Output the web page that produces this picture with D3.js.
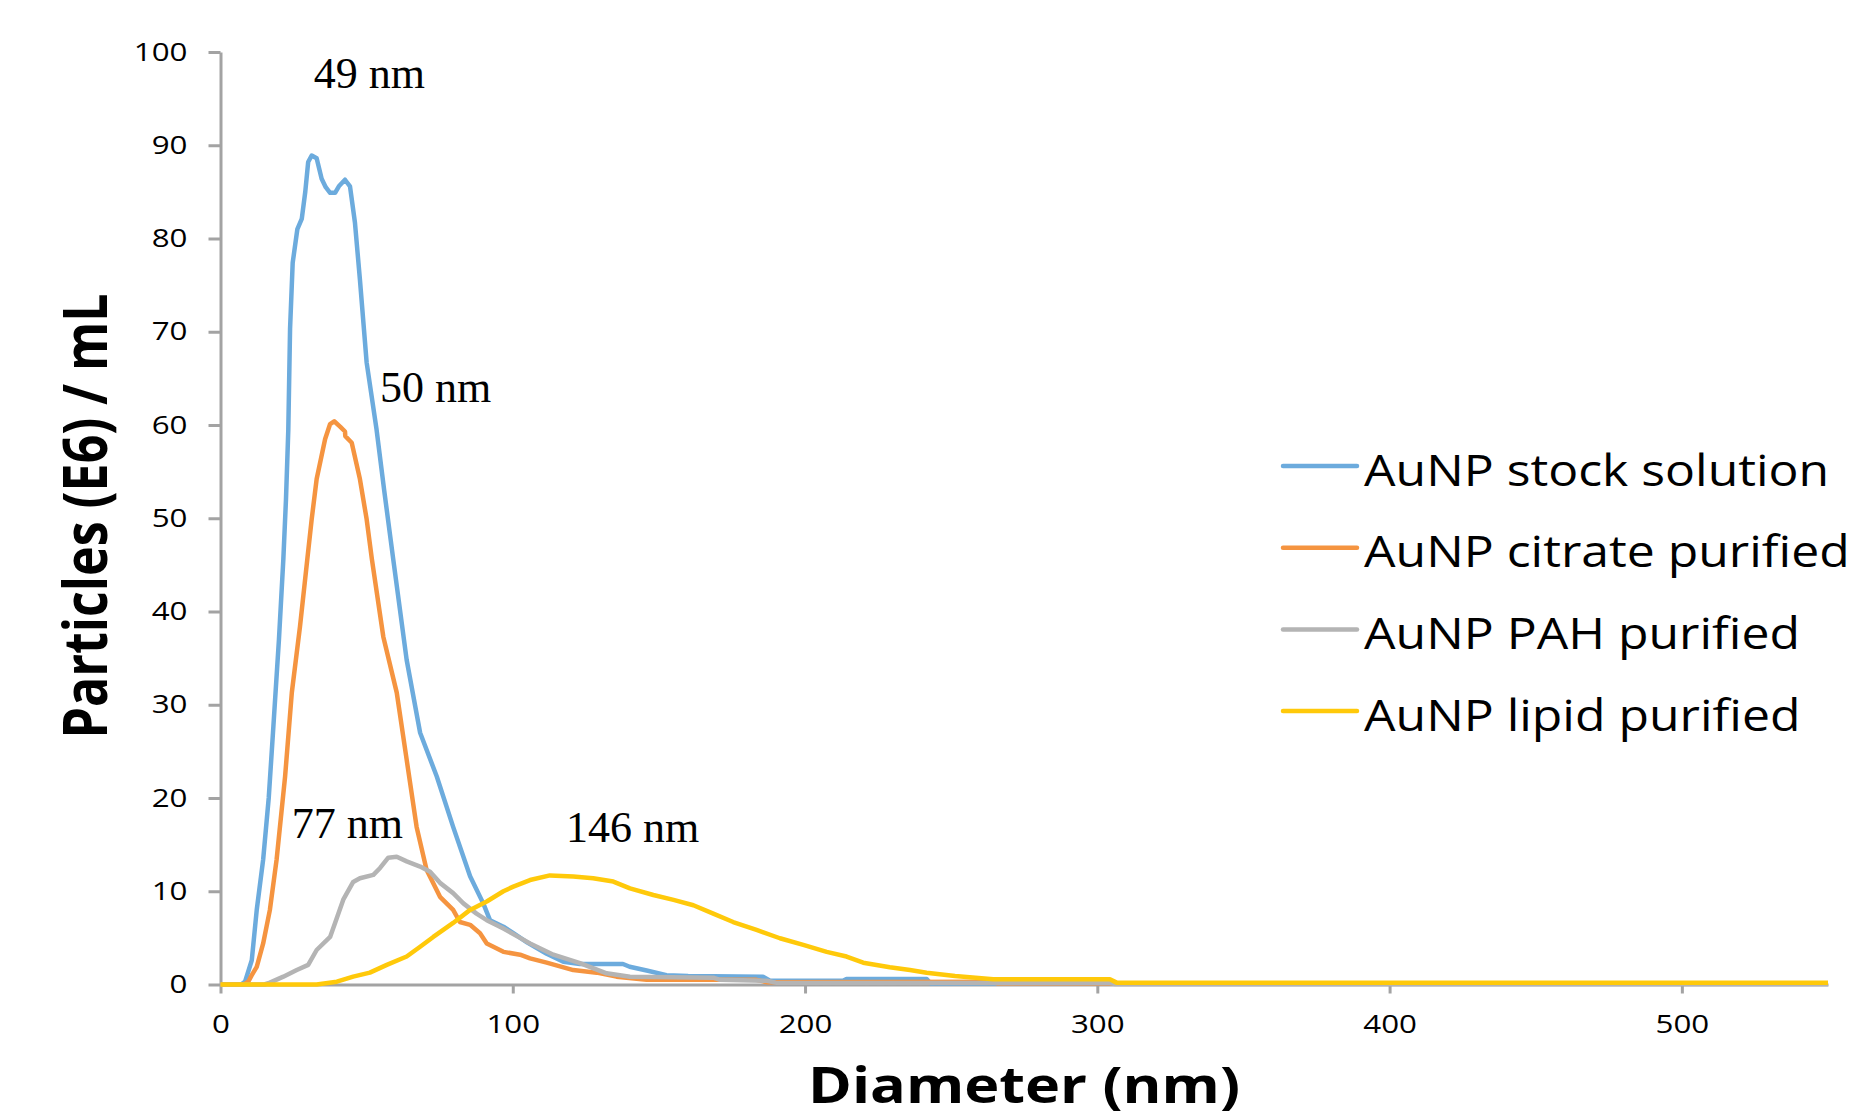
<!DOCTYPE html>
<html>
<head>
<meta charset="utf-8">
<script src="https://cdnjs.cloudflare.com/ajax/libs/d3/7.8.5/d3.min.js"></script>
<style>
  body { margin: 0; background: #fff; }
  svg { display: block; }
</style>
</head>
<body>
<div class="size-chart"></div>
<script>
// diameter (nm), particles (E6) / mL
var stockData = [[0,0],[7,0],[8.4,0.3],[10.7,2.6],[12.4,8],[14.6,13.4],[16.5,20],[18.1,27.7],[20,37],
  [21.5,45.6],[22.4,52],[23.2,59.5],[23.8,70.3],[24.7,77.4],[26.3,81],[27.8,82.1],[29,85],[30,88.2],
  [31.2,88.9],[32.9,88.6],[34.6,86.4],[36,85.5],[37.5,84.9],[39.2,84.9],[40.5,85.6],[42.6,86.3],
  [44.3,85.6],[46,81.7],[47.7,75.6],[50,66.7],[53.4,59.5],[56,53],[59.1,45.6],[63.7,34.8],[68.3,27],
  [74,22.3],[79.6,16.9],[85.4,11.6],[89.9,8.7],[92.2,6.9],[96.8,6.2],[100.2,5.5],[105,4.5],[111.6,3.3],
  [117.3,2.45],[123,2.2],[137.7,2.2],[140,1.9],[145.8,1.5],[152.6,1.0],[160,0.9],[185.6,0.84],[188,0.4],
  [213,0.4],[214.2,0.6],[241.6,0.6],[243,0.1],[550,0.1]];

var citrateData = [[0,0],[8,0],[9.5,0.3],[10.7,1.0],[12.4,1.9],[14.6,4.4],[16.9,8],[19.2,13.4],[22.1,22.3],
  [24.4,31.3],[27.2,38.4],[29.7,45.6],[31.2,49.9],[32.9,54.2],[35.8,58.5],[37.5,60.1],[38.9,60.4],
  [41,59.8],[42.6,59.3],[42.7,58.8],[44.9,58.1],[47.7,54.2],[50,49.9],[51.8,45.6],[55.7,37.3],
  [60.3,31.3],[63.7,24.1],[67.1,16.9],[70.5,12.3],[75.1,9.4],[79.6,8],[81.9,6.7],[85.4,6.4],[88.8,5.5],
  [91.1,4.4],[96.8,3.5],[102.5,3.2],[105.9,2.8],[111.6,2.35],[120.7,1.55],[128.7,1.27],[135.5,0.84],
  [145.8,0.5],[183.4,0.5],[186.9,0.25],[264,0.3],[266,0.1],[550,0.1]];

var pahData = [[0,0],[15,0],[16.9,0.2],[21.5,0.84],[26.1,1.55],[30,2.1],[32.9,3.7],[37.5,5.1],[39.2,6.6],
  [42,9.1],[45.4,11],[47.7,11.4],[52.3,11.75],[54.6,12.5],[57.4,13.6],[60.3,13.7],[63.7,13.2],
  [68.3,12.65],[71.7,12.1],[75.1,10.9],[79.6,9.8],[83.1,8.7],[87.6,7.6],[91.1,6.9],[96.8,6.0],
  [102.5,5.0],[105.9,4.4],[113.9,3.2],[123,2.3],[132.1,1.2],[140.1,0.84],[168.6,0.73],[170.9,0.5],
  [186.9,0.4],[190,0.2],[304.4,0.15],[306,0.05],[550,0.05]];

var lipidData = [[0,0],[32.9,0],[39.8,0.3],[45.4,0.84],[51.1,1.27],[56.9,2.1],[63.7,3],[68.3,4.05],
  [72.8,5.1],[79.6,6.6],[85.4,8],[91.1,8.9],[96.8,10],[100.2,10.5],[105.9,11.2],[112.7,11.7],
  [120.7,11.57],[127.5,11.4],[134.4,11.04],[140.1,10.3],[148.1,9.6],[155,9.07],[161.8,8.5],[168.6,7.6],
  [175.4,6.7],[183.4,5.85],[191.4,4.96],[199.4,4.24],[207.4,3.5],[214.2,3],[219.9,2.34],[229,1.85],
  [235.9,1.55],[241.6,1.27],[251.3,0.9],[264.4,0.56],[304.3,0.56],[306.6,0.2],[550,0.2]];

var seriesNames = ["AuNP stock solution", "AuNP citrate purified", "AuNP PAH purified", "AuNP lipid purified"];
var seriesColors = ["#6cabdd", "#f59440", "#b4b4b4", "#ffc90a"];

var xTicks = [0, 100, 200, 300, 400, 500];
var yTicks = [0, 10, 20, 30, 40, 50, 60, 70, 80, 90, 100];

// peak labels, anchored at [diameter, particles]
var peakLabels = ["49 nm", "50 nm", "77 nm", "146 nm"];
var peakAnchors = [[31.9, 96.1], [54.6, 62.5], [24.4, 15.7], [118.2, 15.3]];

var width = 1849;
var height = 1119;
var margin = {top: 52, right: 21, bottom: 134.5, left: 220.5};

var svg = d3.select(".size-chart")
            .append("svg")
              .attr("width", width)
              .attr("height", height);

var x = d3.scaleLinear()
          .domain([0, 550])
          .range([margin.left, width - margin.right]);

var y = d3.scaleLinear()
          .domain([0, 100])
          .range([height - margin.bottom, margin.top]);

var axisColor = "#a3a3a3";

// y axis
var yAxis = svg.append("g")
   .attr("transform", "translate(" + margin.left + ",0)")
   .call(d3.axisLeft(y).tickValues(yTicks).tickSize(12).tickSizeOuter(0).tickPadding(21));

// x axis
var xAxis = svg.append("g")
   .attr("transform", "translate(0," + (height - margin.bottom) + ")")
   .call(d3.axisBottom(x).tickValues(xTicks).tickSize(9).tickSizeOuter(0).tickPadding(22));

[xAxis, yAxis].forEach(function(g) {
  g.select(".domain").attr("stroke", axisColor).attr("stroke-width", 3);
  g.selectAll(".tick line").attr("stroke", axisColor).attr("stroke-width", 3);
  g.selectAll(".tick text")
   .attr("fill", "#000")
   .attr("font-family", "'Open Sans', sans-serif")
   .attr("font-size", "25px")
   .attr("textLength", function(d) { return String(d).length * 17.9; })
   .attr("lengthAdjust", "spacingAndGlyphs");
});

// series lines
var line = d3.line()
             .x(function(d) { return x(d[0]); })
             .y(function(d) { return y(d[1]); });

var allSeries = [stockData, citrateData, pahData, lipidData];

svg.selectAll("path.series")
   .data(allSeries)
   .enter()
   .append("path")
    .attr("class", "series")
    .attr("d", line)
    .attr("fill", "none")
    .attr("stroke", function(d, i) { return seriesColors[i]; })
    .attr("stroke-width", 4.5)
    .attr("stroke-linejoin", "round");

// peak labels
svg.selectAll("text.peak")
   .data(peakLabels)
   .enter()
   .append("text")
    .attr("class", "peak")
    .text(function(d) { return d; })
    .attr("x", function(d, i) { return x(peakAnchors[i][0]); })
    .attr("y", function(d, i) { return y(peakAnchors[i][1]); })
    .attr("font-family", "'Liberation Serif', 'Times New Roman', serif")
    .attr("font-size", "44px")
    .attr("fill", "#000");

// legend
var legend = svg.selectAll("g.legend")
   .data(seriesNames)
   .enter()
   .append("g")
    .attr("class", "legend")
    .attr("transform", function(d, i) { return "translate(1283," + (466 + i * 81.7) + ")"; });

legend.append("line")
   .attr("x1", 0)
   .attr("x2", 74)
   .attr("stroke", function(d, i) { return seriesColors[i]; })
   .attr("stroke-width", 4.5)
   .attr("stroke-linecap", "round");

legend.append("text")
   .text(function(d) { return d; })
   .attr("x", 81)
   .attr("y", 19.5)
   .attr("font-family", "'Open Sans', sans-serif")
   .attr("font-size", "43px")
   .attr("fill", "#000")
   .each(function() {
     var len = this.getComputedTextLength();
     d3.select(this).attr("textLength", len * 1.16).attr("lengthAdjust", "spacingAndGlyphs");
   });

// axis titles
svg.append("text")
   .text("Diameter (nm)")
   .attr("x", 1024)
   .attr("y", 1103)
   .attr("text-anchor", "middle")
   .attr("font-family", "'Open Sans', sans-serif")
   .attr("font-weight", "bold")
   .attr("font-size", "51px")
   .attr("textLength", 432)
   .attr("lengthAdjust", "spacingAndGlyphs");

svg.append("text")
   .text("Particles (E6) / mL")
   .attr("transform", "translate(107,516) scale(1.18,1) rotate(-90)")
   .attr("text-anchor", "middle")
   .attr("font-family", "'Open Sans', sans-serif")
   .attr("font-weight", "bold")
   .attr("font-size", "51px")
   .attr("textLength", 445)
   .attr("lengthAdjust", "spacingAndGlyphs");
</script>
</body>
</html>
